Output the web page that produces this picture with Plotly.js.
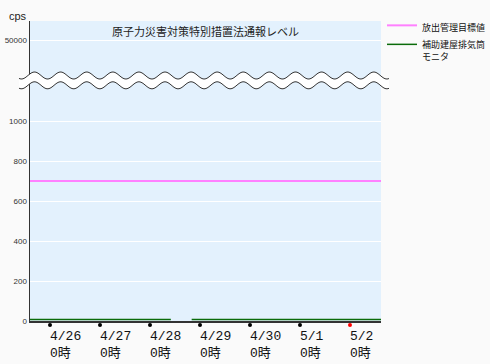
<!DOCTYPE html>
<html>
<head>
<meta charset="utf-8">
<script src="https://cdn.plot.ly/plotly-3.0.1.min.js"></script>
<style>html,body{margin:0;padding:0;background:#fafafa;}#chart{width:490px;height:364px;}</style>
</head>
<body>
<div id="chart"></div>
<script>
// ---- data ----
const tickDates = ['2011-04-26 00:00','2011-04-27 00:00','2011-04-28 00:00','2011-04-29 00:00','2011-04-30 00:00','2011-05-01 00:00','2011-05-02 00:00'];
const tickLabels = ['4/26<br>0時','4/27<br>0時','4/28<br>0時','4/29<br>0時','4/30<br>0時','5/1<br>0時','5/2<br>0時'];
const targetName = '放出管理目標値';
const targetTimes = ['2011-04-25 12:00','2011-05-02 16:00'];
const targetValues = [700, 700];
const monitorName = '補助建屋排気筒<br>モニタ';
const monitorTimes = ['2011-04-25 14:00','2011-04-26 00:00','2011-04-26 12:00','2011-04-27 00:00','2011-04-27 12:00','2011-04-28 00:00','2011-04-28 10:00','2011-04-28 15:00','2011-04-28 20:00','2011-04-29 00:00','2011-04-29 12:00','2011-04-30 00:00','2011-04-30 12:00','2011-05-01 00:00','2011-05-01 12:00','2011-05-02 00:00','2011-05-02 15:00'];
const monitorValues = [8,8,8,8,8,8,8,null,8,8,8,8,8,8,8,8,8];
const lowerTicks = [0,200,400,600,800,1000];
const upperTicks = [50000];
const titleText = '原子力災害対策特別措置法通報レベル';
const unitText = 'cps';

// ---- geometry helpers (pixels -> paper) ----
const W = 490, H = 364, L = 30, R = 109, T = 21, B = 43;
const pw = W - L - R, ph = H - T - B;
const px = x => (x - L) / pw;
const py = y => (H - B - y) / ph;
const split = py(80.5);

function wave(yc, x0, x1, dir) {
  const pts = [];
  const P = 26.1, A = 3.5, x0p = 34.5;
  if (dir > 0) { for (let x = x0; x <= x1; x += 1) pts.push([x, yc - A * Math.cos(2 * Math.PI * (x - x0p) / P)]); }
  else { for (let x = x1; x >= x0; x -= 1) pts.push([x, yc - A * Math.cos(2 * Math.PI * (x - x0p) / P)]); }
  return pts;
}
const toPath = (pts) => pts.map((p, i) => (i ? 'L' : 'M') + px(p[0]).toFixed(5) + ',' + py(p[1]).toFixed(5)).join(' ');
const up = wave(75.5, 19, 389, 1), lo = wave(85.3, 19, 389, -1);
const shapes = [
  {type:'path', xref:'paper', yref:'paper', path: toPath(up.concat(lo)) + ' Z', fillcolor:'#ffffff', line:{width:0}, layer:'above'},
  {type:'path', xref:'paper', yref:'paper', path: toPath(up), line:{color:'#333', width:1}, layer:'above'},
  {type:'path', xref:'paper', yref:'paper', path: toPath(wave(85.3, 19, 389, 1)), line:{color:'#333', width:1}, layer:'above'}
];
// tick dots below the x axis, one per tick date
tickDates.forEach((d, i) => {
  const c = i === tickDates.length - 1 ? '#ff0000' : '#000000';
  shapes.push({type:'circle', xref:'x', yref:'paper', xsizemode:'pixel', ysizemode:'pixel',
    xanchor: d, yanchor: py(325), x0:-2, x1:2, y0:-2, y1:2, fillcolor:c, line:{width:0}, layer:'above'});
});

const traces = [
  {x: targetTimes, y: targetValues, type:'scatter', mode:'lines', name: targetName,
   line:{color:'#ff80ff', width:2}, xaxis:'x', yaxis:'y'},
  {x: monitorTimes, y: monitorValues, type:'scatter', mode:'lines', name: monitorName,
   line:{color:'#0a6b0a', width:1.5}, connectgaps:false, xaxis:'x', yaxis:'y'},
  {x: [], y: [], type:'scatter', mode:'lines', showlegend:false, xaxis:'x', yaxis:'y2'}
];

const annotations = tickDates.map((d, i) => ({
  x: d, xref:'x', y: py(327), yref:'paper', xanchor:'left', yanchor:'top', xshift:-2,
  text: tickLabels[i], align:'left', showarrow:false,
  font:{family:'"Liberation Mono", "Noto Sans CJK JP", monospace', size:13, color:'#111'}
}));
annotations.push({x: px(205), y: py(31), xref:'paper', yref:'paper', xanchor:'center', yanchor:'middle',
  text: titleText, showarrow:false, font:{family:'"Noto Sans CJK JP", sans-serif', size:11, color:'#222'}});
annotations.push({x: px(18), y: py(16), xref:'paper', yref:'paper', xanchor:'center', yanchor:'middle',
  text: unitText, showarrow:false, font:{family:'"Liberation Sans", Arial, sans-serif', size:11, color:'#222'}});

const yCommon = {showline:true, linecolor:'#333', linewidth:1.5, showgrid:true, gridcolor:'#ffffff', gridwidth:1,
  zeroline:false, ticks:'', tickformat:'d', tickfont:{family:'"Liberation Sans", Arial, sans-serif', size:8, color:'#333'}, fixedrange:true};

const layout = {
  width: W, height: H,
  margin: {l:L, r:R, t:T, b:B, pad:0, autoexpand:false},
  paper_bgcolor:'#fafafa', plot_bgcolor:'#e3f1fd',
  showlegend:true,
  legend:{x: px(382), y: py(13), xref:'paper', yref:'paper', xanchor:'left', yanchor:'top', valign:'top',
    bgcolor:'rgba(0,0,0,0)', font:{family:'"Noto Sans CJK JP", sans-serif', size:9, color:'#111'}, tracegroupgap:0, itemwidth:30},
  xaxis:{type:'date', range:['2011-04-25 14:24','2011-05-02 14:53'], showline:true, linecolor:'#333', linewidth:1.5,
    showgrid:false, zeroline:false, showticklabels:false, ticks:'', fixedrange:true},
  yaxis: Object.assign({}, yCommon, {domain:[0, split], range:[0, 1202.5], tickvals: lowerTicks}),
  yaxis2: Object.assign({}, yCommon, {domain:[split, 1], range:[10000, 69500], tickvals: upperTicks, anchor:'x'}),
  shapes: shapes,
  annotations: annotations,
  hovermode:false
};

Plotly.newPlot('chart', traces, layout, {displayModeBar:false, staticPlot:true});
</script>
</body>
</html>
